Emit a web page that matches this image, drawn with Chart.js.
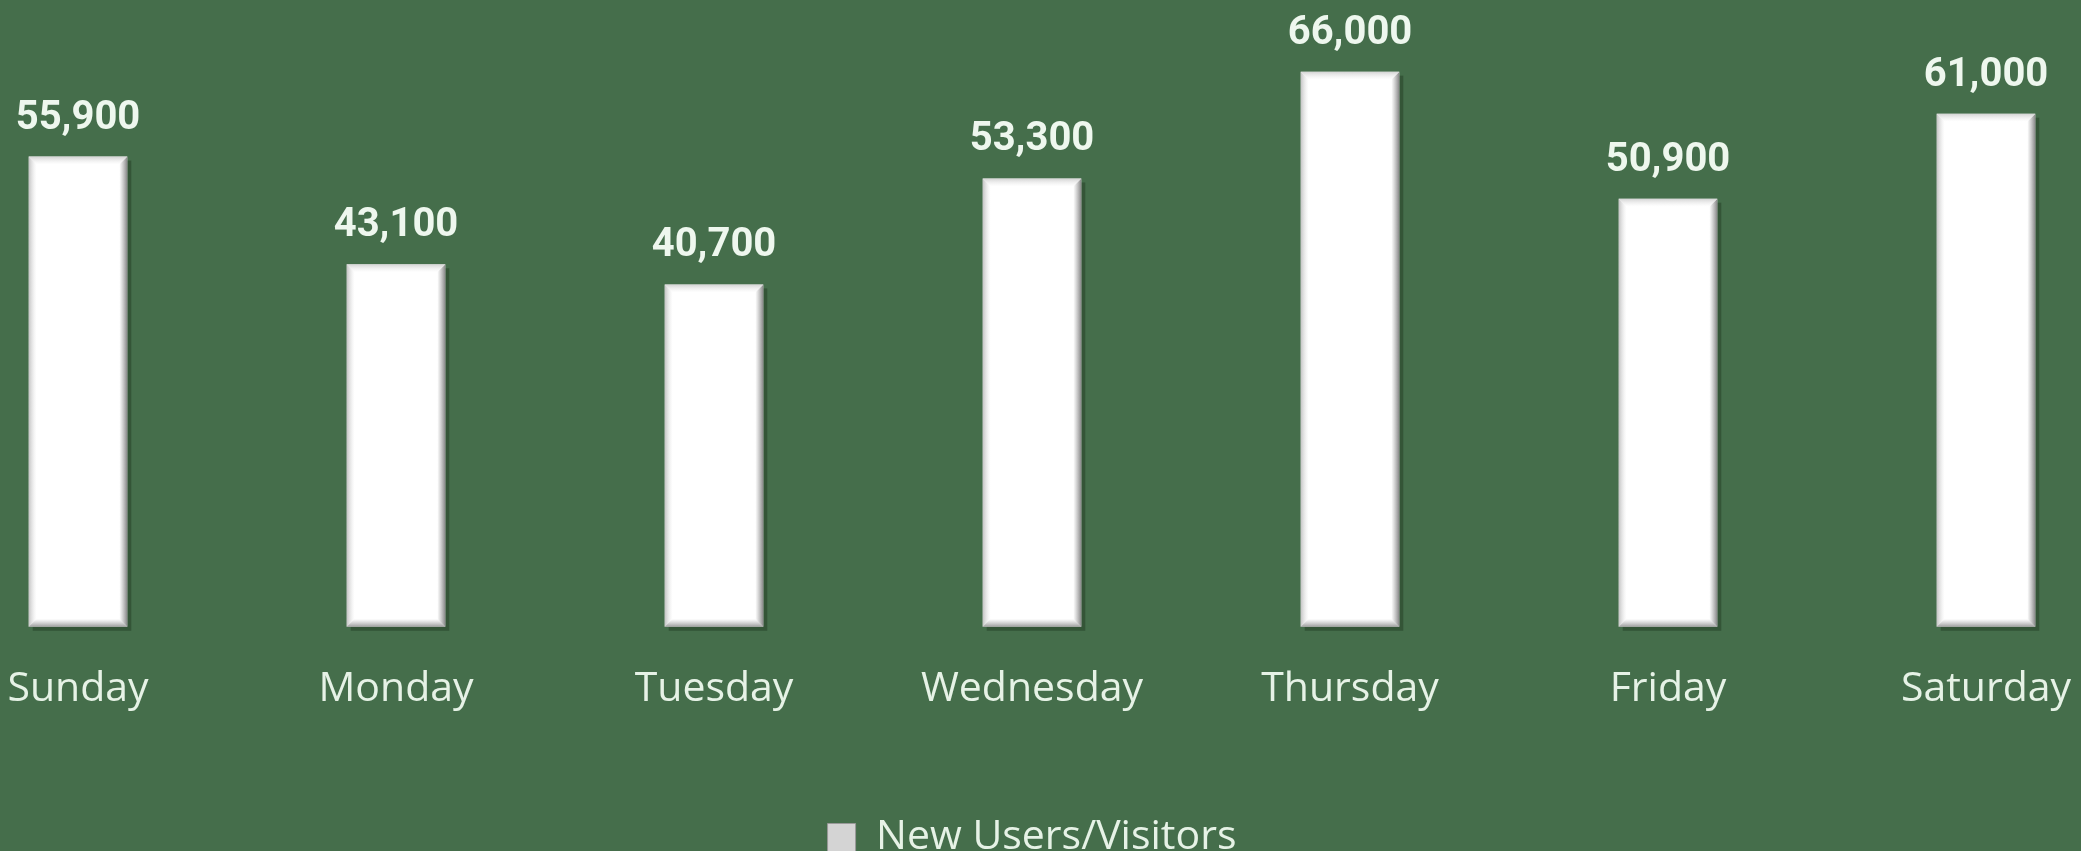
<!DOCTYPE html>
<html>
<head>
<meta charset="utf-8">
<script src="https://cdn.jsdelivr.net/npm/chart.js@4.4.1/dist/chart.umd.min.js"></script>
<style>
  html, body { margin: 0; padding: 0; background: #456e4b; }
  #wrap { width: 2081px; height: 851px; position: relative; }
</style>
</head>
<body>
<div id="wrap"><canvas id="visitorsChart"></canvas></div>
<script>
const days = ['Sunday', 'Monday', 'Tuesday', 'Wednesday', 'Thursday', 'Friday', 'Saturday'];
const newVisitors = [55900, 43100, 40700, 53300, 66000, 50900, 61000];
const seriesName = 'New Users/Visitors';
const yMax = 70000;

// value labels above each bar
const barLabels = {
  id: 'barLabels',
  afterDatasetsDraw(chart) {
    const ctx = chart.ctx;
    const meta = chart.getDatasetMeta(0);
    ctx.save();
    ctx.font = 'bold 40px Roboto';
    ctx.fillStyle = '#eef7ee';
    ctx.textAlign = 'center';
    ctx.textBaseline = 'alphabetic';
    meta.data.forEach((bar, i) => {
      ctx.fillText(newVisitors[i].toLocaleString('en-US'), bar.x, bar.y - 28);
    });
    ctx.restore();
  }
};

// bevel look on the bars
const bevel = {
  id: 'bevel',
  beforeDatasetsDraw(chart) {
    const ctx = chart.ctx;
    const meta = chart.getDatasetMeta(0);
    ctx.save();
    meta.data.forEach(bar => {
      const l = bar.x - bar.width / 2, t = bar.y;
      ctx.fillStyle = 'rgba(20,40,20,0.35)';
      ctx.fillRect(l + 4, t + 4, bar.width, bar.base - t);
    });
    ctx.restore();
  },
  afterDatasetsDraw(chart) {
    const ctx = chart.ctx;
    const meta = chart.getDatasetMeta(0);
    ctx.save();
    meta.data.forEach(bar => {
      const l = bar.x - bar.width / 2, r = bar.x + bar.width / 2;
      const t = bar.y, b = bar.base, e = 8;
      let g = ctx.createLinearGradient(r - e, 0, r, 0);
      g.addColorStop(0, 'rgba(150,150,150,0)');
      g.addColorStop(1, 'rgba(120,120,120,0.9)');
      ctx.fillStyle = g;
      ctx.beginPath();
      ctx.moveTo(r, t); ctx.lineTo(r, b); ctx.lineTo(r - e, b - e); ctx.lineTo(r - e, t + e);
      ctx.closePath(); ctx.fill();
      g = ctx.createLinearGradient(l, 0, l + e, 0);
      g.addColorStop(0, 'rgba(170,170,170,0.7)');
      g.addColorStop(1, 'rgba(220,220,220,0)');
      ctx.fillStyle = g;
      ctx.beginPath();
      ctx.moveTo(l, t); ctx.lineTo(l + e, t + e); ctx.lineTo(l + e, b - e); ctx.lineTo(l, b);
      ctx.closePath(); ctx.fill();
      g = ctx.createLinearGradient(0, b - e, 0, b);
      g.addColorStop(0, 'rgba(170,170,170,0)');
      g.addColorStop(1, 'rgba(130,130,130,0.8)');
      ctx.fillStyle = g;
      ctx.beginPath();
      ctx.moveTo(l, b); ctx.lineTo(l + e, b - e); ctx.lineTo(r - e, b - e); ctx.lineTo(r, b);
      ctx.closePath(); ctx.fill();
      g = ctx.createLinearGradient(0, t, 0, t + e);
      g.addColorStop(0, 'rgba(200,200,200,0.8)');
      g.addColorStop(1, 'rgba(230,230,230,0)');
      ctx.fillStyle = g;
      ctx.beginPath();
      ctx.moveTo(l, t); ctx.lineTo(r, t); ctx.lineTo(r - e, t + e); ctx.lineTo(l + e, t + e);
      ctx.closePath(); ctx.fill();
    });
    ctx.restore();
  }
};

new Chart(document.getElementById('visitorsChart'), {
  type: 'bar',
  data: {
    labels: days,
    datasets: [{
      label: seriesName,
      data: newVisitors,
      backgroundColor: '#ffffff',
      borderWidth: 0,
      barPercentage: 1,
      categoryPercentage: 0.31,
      clip: false
    }]
  },
  options: {
    responsive: true,
    maintainAspectRatio: false,
    animation: false,
    layout: { padding: { left: 78, right: 95, top: 38, bottom: -17 } },
    scales: {
      x: {
        offset: false,
        grid: {
          display: true,
          drawOnChartArea: false,
          drawTicks: true,
          tickLength: 37,
          color: 'rgba(0,0,0,0)'
        },
        border: { display: false },
        ticks: {
          color: '#e6f2e6',
          font: { family: 'Open Sans', size: 41 },
          padding: 1,
          maxRotation: 0,
          autoSkip: false
        }
      },
      y: {
        display: false,
        min: 0,
        max: yMax
      }
    },
    plugins: {
      tooltip: { enabled: false },
      legend: {
        position: 'bottom',
        labels: {
          color: '#e6f2e6',
          font: { family: 'Open Sans', size: 41 },
          boxWidth: 28,
          boxHeight: 28,
          padding: 102,
          generateLabels: () => [{
            text: seriesName,
            fillStyle: '#d4d4d4',
            strokeStyle: '#999999',
            lineWidth: 1,
            fontColor: '#e6f2e6'
          }]
        }
      }
    }
  },
  plugins: [bevel, barLabels]
});
</script>
</body>
</html>
